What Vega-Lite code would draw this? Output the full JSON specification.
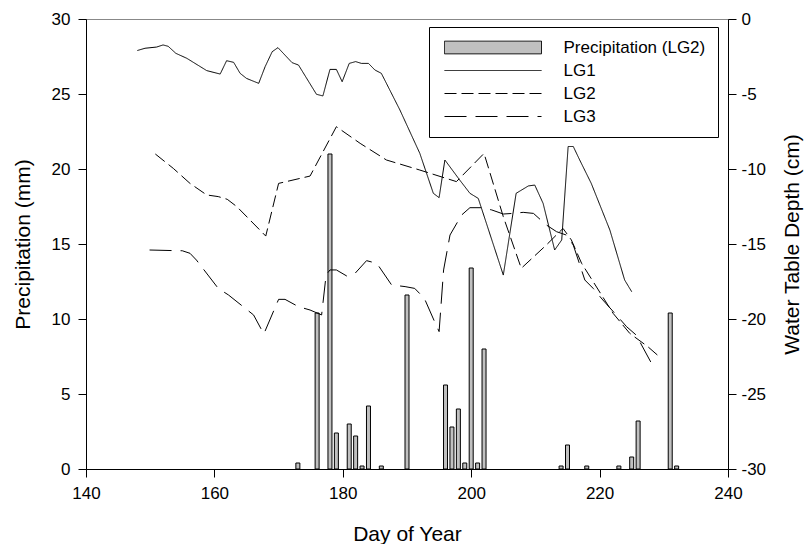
{
  "$schema": "https://vega.github.io/schema/vega-lite/v6.json",
  "width": 642,
  "height": 450,
  "autosize": {"type": "none"},
  "padding": {"left": 86, "top": 19, "right": 81, "bottom": 75},
  "background": "white",
  "config": {
    "font": "Liberation Sans",
    "view": {"stroke": "#888888", "strokeWidth": 1},
    "axis": {
      "grid": false,
      "labelFlush": false,
      "domainColor": "black",
      "domainWidth": 1,
      "tickColor": "black",
      "tickSize": 8,
      "labelFont": "Liberation Sans",
      "labelFontSize": 17,
      "labelColor": "black",
      "titleFont": "Liberation Sans",
      "titleFontSize": 21,
      "titleFontWeight": "normal",
      "titleColor": "black"
    },
    "legend": {
      "labelFont": "Liberation Sans",
      "labelFontSize": 17,
      "labelColor": "black"
    }
  },
  "datasets": {
    "precip": [
      {"day": 173, "mm": 0.4}, {"day": 176, "mm": 10.4}, {"day": 178, "mm": 21.0},
      {"day": 179, "mm": 2.4}, {"day": 181, "mm": 3.0}, {"day": 182, "mm": 2.2},
      {"day": 183, "mm": 0.2}, {"day": 184, "mm": 4.2}, {"day": 186, "mm": 0.2},
      {"day": 190, "mm": 11.6}, {"day": 196, "mm": 5.6}, {"day": 197, "mm": 2.8},
      {"day": 198, "mm": 4.0}, {"day": 199, "mm": 0.4}, {"day": 200, "mm": 13.4},
      {"day": 201, "mm": 0.4}, {"day": 202, "mm": 8.0}, {"day": 214, "mm": 0.2},
      {"day": 215, "mm": 1.6}, {"day": 218, "mm": 0.2}, {"day": 223, "mm": 0.2},
      {"day": 225, "mm": 0.8}, {"day": 226, "mm": 3.2}, {"day": 231, "mm": 10.4},
      {"day": 232, "mm": 0.2}
    ],
    "wt": [
      {"series": "LG1", "day": 148, "depth": -2.1},
      {"series": "LG1", "day": 149.2, "depth": -1.95},
      {"series": "LG1", "day": 151, "depth": -1.87},
      {"series": "LG1", "day": 152, "depth": -1.73},
      {"series": "LG1", "day": 152.8, "depth": -1.82},
      {"series": "LG1", "day": 154, "depth": -2.29},
      {"series": "LG1", "day": 155.7, "depth": -2.62},
      {"series": "LG1", "day": 158.8, "depth": -3.44},
      {"series": "LG1", "day": 160.9, "depth": -3.67},
      {"series": "LG1", "day": 161.9, "depth": -2.78},
      {"series": "LG1", "day": 163, "depth": -2.89},
      {"series": "LG1", "day": 164, "depth": -3.62},
      {"series": "LG1", "day": 165, "depth": -3.96},
      {"series": "LG1", "day": 166.9, "depth": -4.29},
      {"series": "LG1", "day": 167.9, "depth": -3.18},
      {"series": "LG1", "day": 169, "depth": -2.18},
      {"series": "LG1", "day": 169.9, "depth": -1.91},
      {"series": "LG1", "day": 172.1, "depth": -2.91},
      {"series": "LG1", "day": 173.1, "depth": -3.07},
      {"series": "LG1", "day": 175.9, "depth": -5.02},
      {"series": "LG1", "day": 176.9, "depth": -5.13},
      {"series": "LG1", "day": 178, "depth": -3.36},
      {"series": "LG1", "day": 179, "depth": -3.36},
      {"series": "LG1", "day": 179.9, "depth": -4.18},
      {"series": "LG1", "day": 181, "depth": -2.96},
      {"series": "LG1", "day": 182, "depth": -2.84},
      {"series": "LG1", "day": 182.9, "depth": -2.96},
      {"series": "LG1", "day": 184, "depth": -2.96},
      {"series": "LG1", "day": 185, "depth": -3.4},
      {"series": "LG1", "day": 186, "depth": -3.62},
      {"series": "LG1", "day": 188.9, "depth": -6.07},
      {"series": "LG1", "day": 192, "depth": -8.96},
      {"series": "LG1", "day": 194.1, "depth": -11.62},
      {"series": "LG1", "day": 195, "depth": -11.91},
      {"series": "LG1", "day": 195.9, "depth": -9.4},
      {"series": "LG1", "day": 198.2, "depth": -10.73},
      {"series": "LG1", "day": 199.8, "depth": -11.62},
      {"series": "LG1", "day": 201.1, "depth": -11.96},
      {"series": "LG1", "day": 205, "depth": -17.07},
      {"series": "LG1", "day": 207, "depth": -11.62},
      {"series": "LG1", "day": 208.9, "depth": -11.13},
      {"series": "LG1", "day": 209.9, "depth": -11.07},
      {"series": "LG1", "day": 211.2, "depth": -12.29},
      {"series": "LG1", "day": 213, "depth": -15.4},
      {"series": "LG1", "day": 214.1, "depth": -14.73},
      {"series": "LG1", "day": 215.1, "depth": -8.5},
      {"series": "LG1", "day": 215.9, "depth": -8.5},
      {"series": "LG1", "day": 216.9, "depth": -9.4},
      {"series": "LG1", "day": 218.7, "depth": -10.96},
      {"series": "LG1", "day": 221.6, "depth": -14.07},
      {"series": "LG1", "day": 223.9, "depth": -17.4},
      {"series": "LG1", "day": 225, "depth": -18.18},
      {"series": "LG2", "day": 150.8, "depth": -9.0},
      {"series": "LG2", "day": 153.6, "depth": -9.96},
      {"series": "LG2", "day": 156.2, "depth": -10.96},
      {"series": "LG2", "day": 158.8, "depth": -11.73},
      {"series": "LG2", "day": 160.6, "depth": -11.84},
      {"series": "LG2", "day": 162, "depth": -12.02},
      {"series": "LG2", "day": 163.5, "depth": -12.51},
      {"series": "LG2", "day": 168, "depth": -14.47},
      {"series": "LG2", "day": 170, "depth": -10.96},
      {"series": "LG2", "day": 174.9, "depth": -10.47},
      {"series": "LG2", "day": 179, "depth": -7.18},
      {"series": "LG2", "day": 182.7, "depth": -8.29},
      {"series": "LG2", "day": 186.8, "depth": -9.4},
      {"series": "LG2", "day": 192, "depth": -10.07},
      {"series": "LG2", "day": 197.7, "depth": -10.84},
      {"series": "LG2", "day": 202, "depth": -8.96},
      {"series": "LG2", "day": 205, "depth": -13.18},
      {"series": "LG2", "day": 207.8, "depth": -16.62},
      {"series": "LG2", "day": 211.7, "depth": -15.07},
      {"series": "LG2", "day": 214.3, "depth": -13.96},
      {"series": "LG2", "day": 215.6, "depth": -14.73},
      {"series": "LG2", "day": 217.2, "depth": -16.29},
      {"series": "LG2", "day": 222.1, "depth": -19.62},
      {"series": "LG2", "day": 224.7, "depth": -20.96},
      {"series": "LG2", "day": 227.5, "depth": -21.84},
      {"series": "LG2", "day": 229, "depth": -22.4},
      {"series": "LG3", "day": 149.9, "depth": -15.4},
      {"series": "LG3", "day": 153.6, "depth": -15.44},
      {"series": "LG3", "day": 155, "depth": -15.45},
      {"series": "LG3", "day": 156.2, "depth": -15.62},
      {"series": "LG3", "day": 157.2, "depth": -16.07},
      {"series": "LG3", "day": 159, "depth": -17.07},
      {"series": "LG3", "day": 160.6, "depth": -17.96},
      {"series": "LG3", "day": 162.2, "depth": -18.4},
      {"series": "LG3", "day": 166.1, "depth": -19.73},
      {"series": "LG3", "day": 167.7, "depth": -21.0},
      {"series": "LG3", "day": 170, "depth": -18.69},
      {"series": "LG3", "day": 171, "depth": -18.69},
      {"series": "LG3", "day": 173.1, "depth": -19.18},
      {"series": "LG3", "day": 174.9, "depth": -19.4},
      {"series": "LG3", "day": 176.7, "depth": -19.73},
      {"series": "LG3", "day": 177.4, "depth": -17.07},
      {"series": "LG3", "day": 178, "depth": -16.73},
      {"series": "LG3", "day": 179, "depth": -16.73},
      {"series": "LG3", "day": 180.6, "depth": -17.13},
      {"series": "LG3", "day": 181.9, "depth": -16.96},
      {"series": "LG3", "day": 183.7, "depth": -16.11},
      {"series": "LG3", "day": 185.3, "depth": -16.29},
      {"series": "LG3", "day": 187.6, "depth": -17.73},
      {"series": "LG3", "day": 189.7, "depth": -17.84},
      {"series": "LG3", "day": 191.2, "depth": -17.96},
      {"series": "LG3", "day": 192.7, "depth": -18.62},
      {"series": "LG3", "day": 194.3, "depth": -20.18},
      {"series": "LG3", "day": 195, "depth": -20.84},
      {"series": "LG3", "day": 195.7, "depth": -16.73},
      {"series": "LG3", "day": 196.7, "depth": -14.4},
      {"series": "LG3", "day": 198.5, "depth": -13.07},
      {"series": "LG3", "day": 199.8, "depth": -12.58},
      {"series": "LG3", "day": 201.6, "depth": -12.58},
      {"series": "LG3", "day": 203.2, "depth": -12.73},
      {"series": "LG3", "day": 205, "depth": -13.0},
      {"series": "LG3", "day": 206.5, "depth": -12.96},
      {"series": "LG3", "day": 208.1, "depth": -12.89},
      {"series": "LG3", "day": 209.7, "depth": -12.96},
      {"series": "LG3", "day": 211.7, "depth": -13.73},
      {"series": "LG3", "day": 213.3, "depth": -14.18},
      {"series": "LG3", "day": 214.8, "depth": -14.4},
      {"series": "LG3", "day": 215.9, "depth": -15.07},
      {"series": "LG3", "day": 217.7, "depth": -17.4},
      {"series": "LG3", "day": 219, "depth": -17.96},
      {"series": "LG3", "day": 220.5, "depth": -18.73},
      {"series": "LG3", "day": 222.6, "depth": -19.73},
      {"series": "LG3", "day": 224.2, "depth": -20.51},
      {"series": "LG3", "day": 225.7, "depth": -21.07},
      {"series": "LG3", "day": 228, "depth": -22.89}
    ]
  },
  "layer": [
    {
      "data": {"name": "precip"},
      "mark": {"type": "bar", "width": 4, "fill": "#c0c0c0", "stroke": "black", "strokeWidth": 1},
      "encoding": {
        "x": {
          "field": "day", "type": "quantitative",
          "scale": {"domain": [140, 240], "nice": false, "zero": false, "padding": 0},
          "axis": {
            "title": "Day of Year",
            "values": [140, 160, 180, 200, 220, 240],
            "labelPadding": 8,
            "labelFlush": false,
            "titleBaseline": "alphabetic",
            "titleY": 71
          }
        },
        "y": {
          "field": "mm", "type": "quantitative",
          "scale": {"domain": [0, 30], "nice": false},
          "axis": {
            "title": "Precipitation (mm)",
            "orient": "left",
            "values": [0, 5, 10, 15, 20, 25, 30],
            "labelPadding": 8,
            "titleBaseline": "alphabetic",
            "titleX": -57
          }
        }
      }
    },
    {
      "data": {"name": "wt"},
      "mark": {"type": "line", "color": "black", "strokeWidth": 1},
      "encoding": {
        "x": {"field": "day", "type": "quantitative"},
        "y": {
          "field": "depth", "type": "quantitative",
          "scale": {"domain": [-30, 0], "nice": false},
          "axis": {
            "title": "Water Table Depth (cm)",
            "orient": "right",
            "values": [-30, -25, -20, -15, -10, -5, 0],
            "labelExpr": "'' + datum.value",
            "labelPadding": 5,
            "titleAngle": -90,
            "titleBaseline": "alphabetic",
            "titleX": 70
          }
        },
        "strokeDash": {
          "field": "series", "type": "nominal",
          "scale": {
            "domain": ["Precipitation (LG2)", "LG1", "LG2", "LG3"],
            "range": [[1, 0], [1, 0], [12, 5], [22, 9]]
          },
          "legend": {
            "title": null,
            "orient": "none",
            "legendX": 343,
            "legendY": 8,
            "strokeColor": "black",
            "padding": 12,
            "rowPadding": 5,
            "symbolSize": 100,
            "symbolOffset": 43.5,
            "labelOffset": 62,
            "symbolStrokeColor": "black",
            "symbolStrokeWidth": 1,
            "symbolFillColor": "#c0c0c0",
            "symbolType": "M-9.7,0H9.7",
            "encode": {
              "symbols": {
                "update": {
                  "shape": {"signal": "datum.value === 'Precipitation (LG2)' ? 'M-9.7,-1.27H9.7V1.27H-9.7Z' : 'M-9.7,0H9.7'"}
                }
              }
            }
          }
        }
      }
    }
  ],
  "resolve": {"scale": {"y": "independent"}}
}
